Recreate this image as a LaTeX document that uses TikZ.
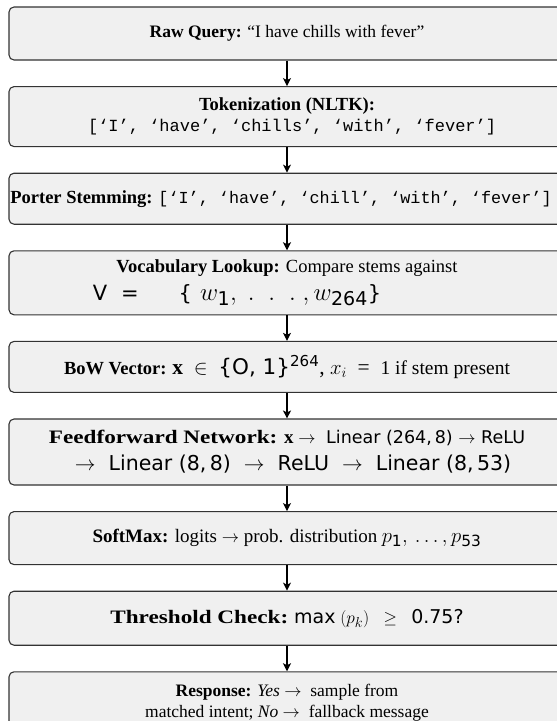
\documentclass[tikz,border=0pt]{standalone}
\usepackage{amsmath}
\usepackage{fontspec}
\setmainfont{Liberation Serif}
\setmonofont{Liberation Mono}
\newfontfamily\sansfont{DejaVu Sans}
\newfontfamily\wideserif[FakeStretch=1.22]{Liberation Serif}
\usepackage{tikz}
\usetikzlibrary{arrows.meta, positioning}
\tikzset{
  stage_box/.style={rectangle, draw=black!80, fill=black!6, line width=1.1pt, rounded corners=5pt, minimum width=556pt, inner xsep=0pt, align=center, font=\fontsize{17.5}{21}\selectfont},
  flow_arrow/.style={-{Stealth[length=8pt, width=8pt, inset=2pt]}, line width=1.1pt, black}
}
\newcommand{\sanstxt}[1]{{\sansfont #1}}
\newcommand{\fsize}[1]{\fontsize{#1}{1.2\dimexpr#1pt\relax}\selectfont}

\begin{document}
\begin{tikzpicture}[x=1pt, y=1pt, node distance=25.5pt]

  \useasboundingbox (0,0) rectangle (557,-721);
  \clip (0,0) rectangle (557,-721);

  % Stages
  \node[stage_box, minimum height=53pt] (raw_query) at (287,-33.5)
    {\textbf{Raw Query:} “I have chills with fever”};
  \node[stage_box, minimum height=60pt, below=of raw_query] (tokenize)
    {{\fsize{18.5}\textbf{Tokenization (NLTK):}}\\
     {\ttfamily\fsize{17} [‘I’, ‘have’, ‘chills’, ‘with’, ‘fever’]}};
  \node[stage_box, minimum height=51pt, below=of tokenize] (stemming)
    {{\fsize{18.5}\textbf{Porter Stemming:}} {\ttfamily\fsize{16.8}[‘I’, ‘have’, ‘chill’, ‘with’, ‘fever’]}\makebox[12pt]{}};
  \node[stage_box, minimum height=64pt, below=of stemming, font=\fsize{21}] (vocab)
    {{\fsize{18.5}\textbf{Vocabulary Lookup:} Compare stems against}\\[3pt]
     {\fsize{21}\sanstxt{V}\hspace{14pt}\sanstxt{=}\hspace{40pt}\sanstxt{\{}\hspace{8pt}{\fsize{24}$w_{\text{\sanstxt{\fsize{19}1}}},\;.\;\;.\;\;.\;,w_{\text{\sanstxt{\fsize{19}264}}}$}\sanstxt{\}}\makebox[100pt]{}}};
  \node[stage_box, minimum height=51pt, below=of vocab] (bow_vector)
    {{\fsize{18.5}\textbf{BoW Vector:}} {\fsize{21.5}$\mathbf{x}$ \ $\in$ \ \sanstxt{\{O, 1\}}$^{\text{\sanstxt{264}}}$, $x_i$ \ = \ }{\fsize{19.5}1 if stem present}};
  \node[stage_box, minimum height=66pt, below=of bow_vector, font=\fsize{20}] (ffn)
    {{\fsize{19}\wideserif\bfseries Feedforward Network:} {\fsize{19}$\mathbf{x}$ $\rightarrow$} {\sansfont\fsize{17.5} Linear (264,\,8) $\rightarrow$ ReLU}\\[3pt]
     {\sansfont\fsize{20.5}\hspace*{12pt}$\rightarrow$ \ Linear (8,\,8) \ $\rightarrow$ \ ReLU \ $\rightarrow$ \ Linear (8,\,53)}};
  \node[stage_box, minimum height=53pt, below=of ffn] (softmax)
    {{\fsize{19}\textbf{SoftMax:} logits $\rightarrow$ prob. distribution} {\fsize{22}$p_{\text{\sanstxt{1}}},\,.\,.\,.\,,p_{\text{\sanstxt{53}}}$}};
  \node[stage_box, minimum height=54pt, below=of softmax] (threshold)
    {{\fsize{19}\wideserif\bfseries Threshold Check:} {\fsize{19}\sanstxt{max} $(p_k)$ \ \ $\geq$ \ \ \sanstxt{0.75?}}};
  \node[stage_box, minimum height=62pt, below=of threshold] (response)
    {\textbf{Response:} \textit{Yes} $\rightarrow$ \ sample from\\
     matched intent; \textit{No} $\rightarrow$ \ fallback message};

  % Arrows
  \draw[flow_arrow] (raw_query) -- (tokenize);
  \draw[flow_arrow] (tokenize) -- (stemming);
  \draw[flow_arrow] (stemming) -- (vocab);
  \draw[flow_arrow] (vocab) -- (bow_vector);
  \draw[flow_arrow] (bow_vector) -- (ffn);
  \draw[flow_arrow] (ffn) -- (softmax);
  \draw[flow_arrow] (softmax) -- (threshold);
  \draw[flow_arrow] (threshold) -- (response);

\end{tikzpicture}
\end{document}
